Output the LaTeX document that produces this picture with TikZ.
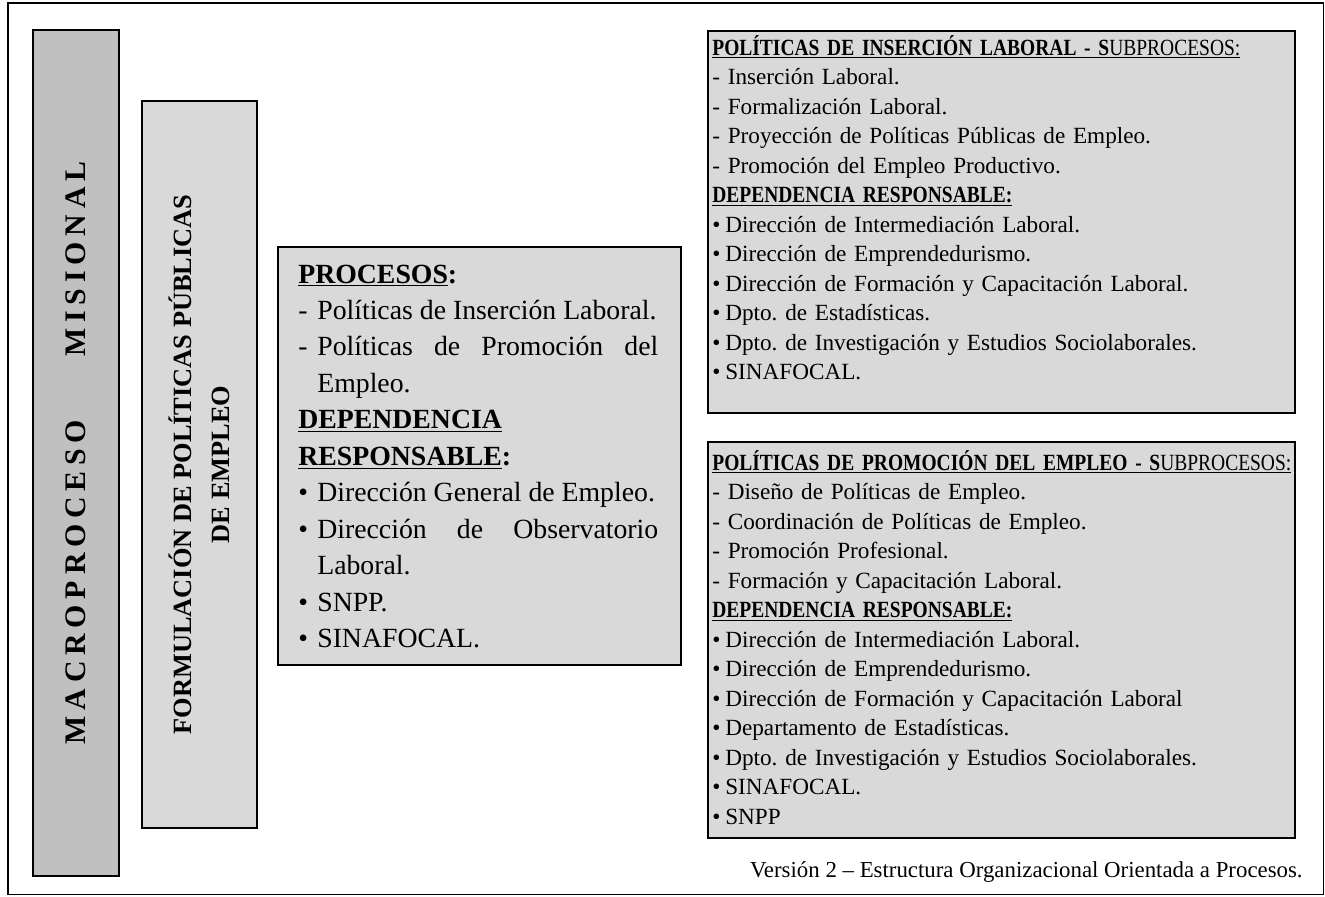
\documentclass[tikz,border=0pt]{standalone}
\usepackage{fontspec}
\setmainfont{Liberation Serif}
\newfontfamily\condensada[FakeStretch=0.84]{Liberation Serif}
\usetikzlibrary{positioning}
\definecolor{grisMacro}{RGB}{192,192,192}
\definecolor{grisCaja}{RGB}{217,217,217}
\newcommand\lsp{\hspace{3.3pt}}
\newlength\Hang
\newcommand\litem[2]{\par\hangindent=\Hang\hangafter=1\makebox[\Hang][l]{#1}#2\par}
\newcommand\bul{\makebox[7.4pt][l]{\textbullet}}

\begin{document}
\frenchspacing
\begin{tikzpicture}[x=0.02cm, y=-0.02cm]
	\tikzstyle{box}=[draw, line width=1.1pt, fill=grisCaja, inner sep=0pt, anchor=north west]
	\tikzstyle{vtext}=[rotate=90, align=center, inner sep=0pt]
	\tikzstyle{subtext}=[anchor=base west, inner sep=0pt, text width=11.6cm, align=left, font=\fontsize{13.2}{16.8}\selectfont]
	\newcommand\Xsub{707}
	\newcommand\Wsub{11.74cm}

	\useasboundingbox (0,0) rectangle (1325,896);

	% Frame
	\node [draw, line width=0.9pt, minimum width=26.32cm, minimum height=17.84cm, inner sep=0pt, anchor=north west] at (7,2) (frame) {};

	% Macroproceso
	\node [box, fill=grisMacro, minimum width=1.72cm, minimum height=16.92cm] at (32,29) (macro) {};
	\node [vtext, font=\fontsize{17}{21}\selectfont\bfseries] at (macro.center) (macrotxt)
		{M\lsp A\lsp C\lsp R\lsp O\lsp P\lsp R\lsp O\lsp C\lsp E\lsp S\lsp O\hspace{36pt}M\lsp I\lsp S\lsp I\lsp O\lsp N\lsp A\lsp L};

	% Formulacion
	\node [box, minimum width=2.3cm, minimum height=14.54cm] at (141,100) (formula) {};
	\node [vtext, font=\fontsize{15}{21.5}\selectfont\bfseries] at (formula.center) (formulatxt)
		{FORMULACIÓN DE POLÍTICAS PÚBLICAS\\DE EMPLEO};

	% Procesos
	\node [box, minimum width=8.06cm, minimum height=8.36cm] at (277,246) (proc) {};
	\node [anchor=base west, inner sep=0pt, text width=7.2cm, align=justify, font=\fontsize{15.8}{20.75}\selectfont] at (298,283) (proctxt) {%
		\setlength\Hang{10.8pt}%
		\underline{\textbf{PROCESOS}}\textbf{:}\par
		\litem{-}{Políticas de Inserción Laboral.}
		\litem{-}{Políticas de Promoción del\linebreak Empleo.}
		\underline{\textbf{DEPENDENCIA}}\par
		\underline{\textbf{RESPONSABLE}}\textbf{:}\par
		\litem{\textbullet}{Dirección General de Empleo.}
		\litem{\textbullet}{Dirección de Observatorio\linebreak Laboral.}
		\litem{\textbullet}{SNPP.}
		\litem{\textbullet}{SINAFOCAL.}};

	% Insercion laboral
	\node [box, minimum width=\Wsub, minimum height=7.64cm] at (\Xsub,30) (insercion) {};
	\node [subtext] at (712,55) (insertxt) {%
		{\condensada\underline{\textbf{POLÍTICAS DE INSERCIÓN LABORAL - S}UBPROCESOS:}}\\
		- Inserción Laboral.\\
		- Formalización Laboral.\\
		- Proyección de Políticas Públicas de Empleo.\\
		- Promoción del Empleo Productivo.\\
		{\condensada\underline{\textbf{DEPENDENCIA RESPONSABLE:}}}\\
		\bul Dirección de Intermediación Laboral.\\
		\bul Dirección de Emprendedurismo.\\
		\bul Dirección de Formación y Capacitación Laboral.\\
		\bul Dpto. de Estadísticas.\\
		\bul Dpto. de Investigación y Estudios Sociolaborales.\\
		\bul SINAFOCAL.};

	% Promocion del empleo
	\node [box, minimum width=\Wsub, minimum height=7.92cm] at (\Xsub,441) (promocion) {};
	\node [subtext] at (712,470) (promotxt) {%
		{\condensada\underline{\textbf{POLÍTICAS DE PROMOCIÓN DEL EMPLEO - S}UBPROCESOS:}}\\
		- Diseño de Políticas de Empleo.\\
		- Coordinación de Políticas de Empleo.\\
		- Promoción Profesional.\\
		- Formación y Capacitación Laboral.\\
		{\condensada\underline{\textbf{DEPENDENCIA RESPONSABLE:}}}\\
		\bul Dirección de Intermediación Laboral.\\
		\bul Dirección de Emprendedurismo.\\
		\bul Dirección de Formación y Capacitación Laboral\\
		\bul Departamento de Estadísticas.\\
		\bul Dpto. de Investigación y Estudios Sociolaborales.\\
		\bul SINAFOCAL.\\
		\bul SNPP};

	% Version
	\node [anchor=base east, inner sep=0pt, font=\fontsize{13}{15}\selectfont] at (1303,877) (version)
		{Versión 2 – Estructura Organizacional Orientada a Procesos.};
\end{tikzpicture}
\end{document}
